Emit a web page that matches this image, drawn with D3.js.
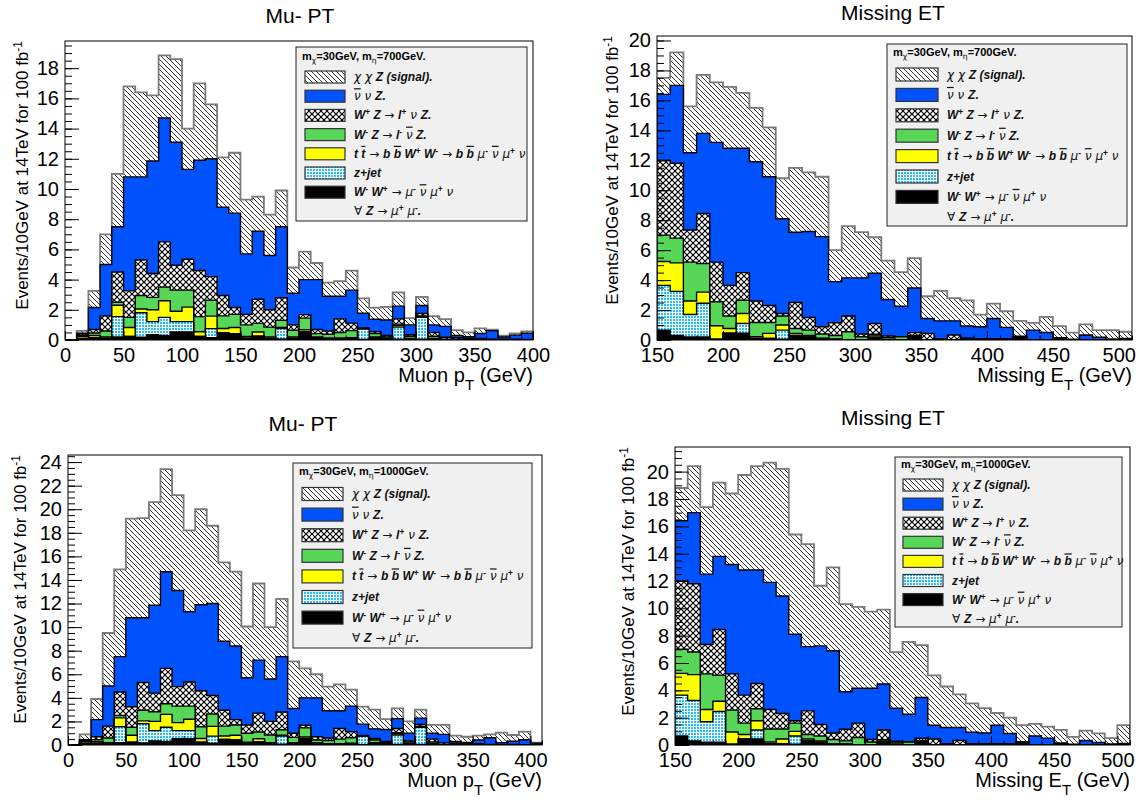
<!DOCTYPE html>
<html>
<head>
<meta charset="utf-8">
<script src="https://cdn.jsdelivr.net/npm/d3@7"></script>
<style>
  body { margin: 0; background: #fff; }
  svg text { font-family: 'Liberation Sans', Arial, sans-serif; }
</style>
</head>
<body>
<svg id="chart" width="1143" height="804"></svg>
<script>
// bin lower edges (10 GeV bins)
const muEdges = d3.range(0, 420, 10);    // 0..410
const metEdges = d3.range(150, 520, 10); // 150..510

// Muon pT, events per bin, one array per process (backgrounds shared by both masses)
const muWW    = [0, .1, .15, .1, .2, .23, .18, .35, .3, .53, .53, .23, .15, .48, .42, .12, .25, .1, .07, .1, .53, .15, .1, .1, .1, .03, .15, .05, .05, .05, .05, .05, 0, 0, 0, 0, 0, 0, 0, 0, 0];
const muZjet  = [0, 0, 0, 0, 1.35, 0, 1.62, .87, 1.2, .69, .69, 0, .6, 0, 0, 0, 0, 0, .69, 0, 0, 0, 0, 0, 0, .7, 0, 0, .8, 0, 1.45, 0, 0, 0, 0, 0, 0, 0, 0, 0, 0];
const muTT    = [0, .15, .15, .1, .75, .6, .25, .78, 1.1, .68, .96, .32, .83, .28, .41, .11, .28, .1, .07, .1, .15, .05, .02, .02, .05, 0, .05, .05, .1, .05, .05, .05, 0, 0, 0, 0, 0, 0, 0, 0, 0];
const muWmZ   = [0, .05, .16, .4, .2, .67, .9, .82, .9, 1.4, 1.12, 1.0, 1.05, .84, .87, .77, .57, .65, .47, .45, .77, .22, .26, .38, .47, .01, .22, .1, .1, .15, .05, .15, .05, .05, 0, 0, 0, 0, 0, 0, 0];
const muWpZ   = [0, .1, .24, 1.0, 2.0, 1.75, 2.35, 1.58, 3.0, 1.65, 2.05, 3.05, 1.57, 1.35, .45, .7, 1.6, 1.15, 1.5, .35, .23, .28, .22, .9, .5, .06, .13, .1, .35, .1, .15, .25, .13, .1, .1, .1, .05, .05, .05, .03, 0];
const muNuNuZ = [0, .05, 1.45, 3.4, 3.0, 7.55, 5.5, 7.45, 8.2, 8.15, 5.95, 7.3, 7.8, 5.85, 6.25, 4.0, 4.5, 3.6, 4.7, 2.1, 2.32, 3.3, 2.3, 1.5, 2.18, .97, .82, 1.02, .84, .65, .53, .5, .72, .15, .12, .33, .57, .15, .27, .42, .15];
const muSig700  = [0, .15, 1.1, 2.0, 3.5, 6.0, 5.6, 4.35, 4.15, 5.5, 2.7, 5.1, 3.6, 3.3, 4.0, 3.6, 2.3, 2.7, 2.4, 1.7, 1.85, 1.1, .9, 1.0, 1.3, .98, .78, .88, .91, .45, .57, .58, .48, .35, .28, .34, .06, .08, .11, .12, .05];
const muSig1000 = [0, .45, 1.75, 4.5, 7.4, 8.4, 8.45, 8.75, 8.7, 8.1, 6.9, 8.1, 6.6, 6.7, 6.3, 4.35, 6.5, 4.4, 4.9, 4.0, 2.5, 2.0, 2.05, 2.25, 1.4, 1.48, 1.63, .88, .86, 1.0, .72, .7, .8, .5, .48, .37, .28, .85, .53, .68, .05];

// Missing ET
const metWW    = [.66, .3, .2, .2, .05, .45, .45, .1, .1, .05, .3, .2, .1, .05, 0, 0, .15, 0, 0, .27, 0, .05, 0, 0, .05, .05, .05, .2, 0, 0, .05, 0, 0, 0, 0, 0];
const metZjet  = [2.99, 2.95, 1.5, 2.25, 0, 0, .65, 0, 0, .61, 0, 0, 0, 0, 0, 0, 0, 0, 0, 0, 0, 0, 0, 0, 0, 0, 0, 0, 0, 0, 0, 0, 0, 0, 0, 0];
const metTT    = [1.59, 1.9, .9, .75, .9, .32, .67, .12, .34, .34, .14, .1, 0, 0, 0, 0, .12, 0, 0, 0, 0, 0, 0, .1, 0, 0, 0, 0, 0, 0, 0, 0, 0, 0, 0, 0];
const metWmZ   = [1.76, 1.65, 2.6, 1.9, 1.6, .83, .88, .95, .73, .6, .33, .36, .3, .25, .55, .22, .11, .15, .22, .03, 0, 0, 0, 0, 0, 0, 0, 0, 0, 0, 0, 0, 0, 0, 0, 0];
const metWpZ   = [5.0, 5.0, 2.15, 3.35, 2.65, 2.05, 1.85, 1.43, 1.13, .17, 1.73, .84, .48, .85, 1.05, .18, .72, .12, 0, .19, .44, 0, .33, 0, 0, 0, 0, 0, 0, 0, 0, 0, 0, 0, 0, 0];
const metNuNuZ = [4.4, 5.2, 5.15, 5.35, 8.0, 9.15, 8.3, 9.3, 8.6, 6.33, 4.7, 5.75, 6.02, 2.75, 2.55, 3.75, 3.36, 2.43, 2.03, 2.98, 1.0, 1.23, .95, .83, .83, 1.39, .79, .05, .66, .5, .1, .05, .33, .18, .07, .11];
const metSig700  = [1.1, 2.2, 3.1, 3.9, 4.0, 4.1, 3.7, 3.6, 3.3, 2.7, 4.3, 3.95, 4.0, 2.1, 3.45, 3.05, 2.4, 2.6, 2.28, 2.0, 1.48, 2.0, 1.52, 1.72, .82, .99, 1.08, 1.03, .49, 1.05, .78, .44, .71, .48, .59, .44];
const metSig1000 = [2.4, 3.4, 4.9, 5.4, 5.2, 6.95, 7.6, 8.75, 9.3, 7.3, 7.5, 4.4, 6.1, 6.4, 5.95, 5.6, 5.45, 4.1, 5.3, 3.83, 3.66, 3.0, 2.42, 2.12, 1.82, .9, 1.16, 1.21, .88, .84, .95, .55, .72, .67, .43, 1.35];

const muTicks = [0, 50, 100, 150, 200, 250, 300, 350, 400];
const metTicks = [150, 200, 250, 300, 350, 400, 450, 500];

const keys = ['ww', 'zjet', 'tt', 'wmz', 'wpz', 'nnz', 'sig'];
const fills = { ww: '#000', zjet: 'url(#pZjet)', tt: '#ffff00', wmz: '#57d657', wpz: 'url(#pCross)', nnz: '#0052ff', sig: 'url(#pSig)' };

// legend labels: [text, style]
const legendLabels = [
  [['χ χ ', 'g'], ['Z (signal).', 'b']],
  [['ν', 'go'], [' ν ', 'g'], ['Z.', 'b']],
  [['W', 'b'], ['+', 'sup'], [' Z ', 'b'], ['→ ', 'g'], ['l', 'b'], ['+', 'sup'], [' ν ', 'g'], ['Z.', 'b']],
  [['W', 'b'], ['-', 'sup'], [' Z ', 'b'], ['→ ', 'g'], ['l', 'b'], ['-', 'sup'], [' ', 'g'], ['ν', 'go'], [' Z.', 'b']],
  [['t ', 'b'], ['t', 'bo'], [' → ', 'g'], ['b ', 'b'], ['b', 'bo'], [' W', 'b'], ['+', 'sup'], [' W', 'b'], ['-', 'sup'], [' → ', 'g'], ['b ', 'b'], ['b', 'bo'], [' μ', 'g'], ['-', 'sup'], [' ', 'g'], ['ν', 'go'], [' μ', 'g'], ['+', 'sup'], [' ν', 'g']],
  [['z+jet', 'b']],
  [['W', 'b'], ['-', 'sup'], [' W', 'b'], ['+', 'sup'], [' → μ', 'g'], ['-', 'sup'], [' ', 'g'], ['ν', 'go'], [' μ', 'g'], ['+', 'sup'], [' ν', 'g']],
  [['∀ ', 'g'], ['Z', 'b'], [' → μ', 'g'], ['+', 'sup'], [' μ', 'g'], ['-', 'sup'], ['.', 'b']]
];
const legendKeys = ['sig', 'nnz', 'wpz', 'wmz', 'tt', 'zjet', 'ww', null];

const panels = [
  { edges: muEdges, cols: [muWW, muZjet, muTT, muWmZ, muWpZ, muNuNuZ, muSig700], x0: 65, x1: 533, yT: 41, yB: 340,
    xDom: [0, 400], yMax: 19.8, xTicks: muTicks, title: 'Mu- PT', tx: 300, ty: 23, axTitle: ['Muon p', 'T'],
    ytx: 22, mEta: '700', leg: { box: [296, 47, 527, 221], hy: 60, y0: 77, step: 19.2, sx: 305, sw: 40, sh: 12, tx: 354 } },
  { edges: metEdges, cols: [metWW, metZjet, metTT, metWmZ, metWpZ, metNuNuZ, metSig700], x0: 657, x1: 1132, yT: 36, yB: 340,
    xDom: [150, 510], yMax: 20.3, xTicks: metTicks, title: 'Missing ET', tx: 893, ty: 20, axTitle: ['Missing E', 'T'],
    ytx: 612, mEta: '700', leg: { box: [887, 44, 1127, 226], hy: 56, y0: 74.5, step: 20.4, sx: 896, sw: 42, sh: 13, tx: 947 } },
  { edges: muEdges, cols: [muWW, muZjet, muTT, muWmZ, muWpZ, muNuNuZ, muSig1000], x0: 68, x1: 542, yT: 455, yB: 745,
    xDom: [0, 410], yMax: 24.6, xTicks: muTicks, title: 'Mu- PT', tx: 303, ty: 431, axTitle: ['Muon p', 'T'],
    ytx: 20, mEta: '1000', leg: { box: [293, 463, 532, 648], hy: 475, y0: 494, step: 20.6, sx: 302, sw: 41, sh: 13, tx: 352 } },
  { edges: metEdges, cols: [metWW, metZjet, metTT, metWmZ, metWpZ, metNuNuZ, metSig1000], x0: 675, x1: 1130, yT: 447, yB: 745,
    xDom: [150, 510], yMax: 21.8, xTicks: metTicks, title: 'Missing ET', tx: 893, ty: 425, axTitle: ['Missing E', 'T'],
    ytx: 628, mEta: '1000', leg: { box: [895, 457, 1122, 627], hy: 467.5, y0: 485, step: 19.1, sx: 903, sw: 40, sh: 12, tx: 952 } }
];

const svg = d3.select('#chart');
const defs = svg.append('defs');

// hatch patterns
const pSig = defs.append('pattern').attr('id', 'pSig').attr('patternUnits', 'userSpaceOnUse')
  .attr('width', 5).attr('height', 5);
pSig.append('rect').attr('width', 5).attr('height', 5).attr('fill', '#fff');
pSig.append('path').attr('d', 'M0,0L5,5M-1,4L1,6M4,-1L6,1').attr('stroke', '#000').attr('stroke-width', 0.8);

const pCross = defs.append('pattern').attr('id', 'pCross').attr('patternUnits', 'userSpaceOnUse')
  .attr('width', 6).attr('height', 6);
pCross.append('rect').attr('width', 6).attr('height', 6).attr('fill', '#fff');
pCross.append('path').attr('d', 'M0,0L6,6M6,0L0,6').attr('stroke', '#000').attr('stroke-width', 1.2);

const pZjet = defs.append('pattern').attr('id', 'pZjet').attr('patternUnits', 'userSpaceOnUse')
  .attr('width', 3).attr('height', 3);
pZjet.append('rect').attr('width', 3).attr('height', 3).attr('fill', '#fff');
pZjet.append('rect').attr('x', 1).attr('y', 1).attr('width', 2).attr('height', 2).attr('fill', '#1fc0ff');

const styles = {
  g:   { family: "'DejaVu Sans', sans-serif", style: 'italic', weight: 'normal' },
  go:  { family: "'DejaVu Sans', sans-serif", style: 'italic', weight: 'normal', deco: 'overline' },
  b:   { style: 'italic', weight: 'bold' },
  bo:  { style: 'italic', weight: 'bold', deco: 'overline' },
  n:   { weight: 'bold' },
  sup: { weight: 'bold', size: '70%', shift: -4 },
  sub: { family: "'DejaVu Sans', sans-serif", weight: 'normal', size: '70%', shift: 3 }
};

function rich(text, parts) {
  let cur = 0;
  parts.forEach(([s, c]) => {
    const st = styles[c];
    const ts = text.append('tspan').text(s);
    const target = st.shift || 0;
    if (target !== cur) ts.attr('dy', target - cur);
    cur = target;
    if (st.family) ts.attr('font-family', st.family);
    if (st.style) ts.attr('font-style', st.style);
    if (st.weight) ts.attr('font-weight', st.weight);
    if (st.size) ts.attr('font-size', st.size);
    if (st.deco) ts.attr('text-decoration', st.deco);
  });
}

panels.forEach((p, pi) => {
  const g = svg.append('g');
  const x = d3.scaleLinear().domain(p.xDom).range([p.x0, p.x1]);
  const y = d3.scaleLinear().domain([0, p.yMax]).range([p.yB, p.yT]);

  const clipId = 'clip' + pi;
  defs.append('clipPath').attr('id', clipId).append('rect')
    .attr('x', p.x0).attr('y', p.yT).attr('width', p.x1 - p.x0).attr('height', p.yB - p.yT);

  const rows = p.cols[0].map((_, i) => {
    const r = {};
    keys.forEach((k, j) => { r[k] = p.cols[j][i]; });
    return r;
  });
  const stacked = d3.stack().keys(keys)(rows);

  const area = d3.area()
    .x(d => x(d[0])).y0(y(0)).y1(d => y(d[1]))
    .curve(d3.curveStepAfter);

  const hist = g.append('g').attr('clip-path', `url(#${clipId})`);
  // draw like ROOT THStack: largest cumulative first, each from zero
  for (let k = keys.length - 1; k >= 0; k--) {
    const s = stacked[k];
    const n = s.length;
    const pts = s.map((d, i) => [p.edges[i], d[1]]);
    pts.push([p.edges[n], s[n - 1][1]]);
    hist.append('path')
      .attr('d', area(pts))
      .attr('fill', fills[keys[k]])
      .attr('stroke', keys[k] === 'sig' ? '#7a7a7a' : '#000')
      .attr('stroke-width', keys[k] === 'sig' ? 1.8 : 1.4)
      .attr('stroke-linejoin', 'miter');
  }

  // frame
  g.append('rect').attr('x', p.x0).attr('y', p.yT)
    .attr('width', p.x1 - p.x0).attr('height', p.yB - p.yT)
    .attr('fill', 'none').attr('stroke', '#000').attr('stroke-width', 1);

  // y axis, ticks inside the frame
  const yMajor = d3.range(0, p.yMax + 0.001, 2);
  const yMinor = d3.range(0, p.yMax, 0.5);
  const ya = g.append('g').attr('transform', `translate(${p.x0},0)`)
    .call(d3.axisLeft(y).tickValues(yMinor).tickSize(-7).tickFormat(''));
  ya.select('.domain').remove();
  const yb = g.append('g').attr('transform', `translate(${p.x0},0)`)
    .call(d3.axisLeft(y).tickValues(yMajor).tickSize(-14).tickPadding(6).tickFormat(d3.format('d')));
  yb.select('.domain').remove();
  yb.selectAll('text').attr('font-size', 20).attr('font-family', "'Liberation Sans', Arial, sans-serif");

  // x axis
  const xMinor = d3.range(p.xDom[0], p.xDom[1] + 0.001, 10);
  const xa = g.append('g').attr('transform', `translate(0,${p.yB})`)
    .call(d3.axisBottom(x).tickValues(xMinor).tickSize(-4.5).tickFormat(''));
  xa.select('.domain').remove();
  const xb = g.append('g').attr('transform', `translate(0,${p.yB})`)
    .call(d3.axisBottom(x).tickValues(p.xTicks).tickSize(-9).tickPadding(8).tickFormat(d3.format('d')));
  xb.select('.domain').remove();
  xb.selectAll('text').attr('font-size', 20).attr('font-family', "'Liberation Sans', Arial, sans-serif");
  g.selectAll('.tick line').attr('stroke', '#000');

  // title
  g.append('text').attr('x', p.tx).attr('y', p.ty).attr('text-anchor', 'middle')
    .attr('font-size', 21).text(p.title);

  // x axis title
  const xt = g.append('text').attr('x', p.x1).attr('y', p.yB + 42).attr('text-anchor', 'end').attr('font-size', 20);
  xt.append('tspan').text(p.axTitle[0]);
  xt.append('tspan').attr('dy', 8).attr('font-size', 15).text(p.axTitle[1]);
  xt.append('tspan').attr('dy', -8).text(' (GeV)');

  // y axis title
  const yt = g.append('text').attr('transform', `translate(${p.ytx + 6},${p.yT}) rotate(-90)`)
    .attr('text-anchor', 'end').attr('font-size', 17);
  yt.append('tspan').text('Events/10GeV at 14TeV for 100 fb');
  yt.append('tspan').attr('dy', -6).attr('font-size', 12).text('-1');

  // legend
  const L = p.leg;
  const lg = g.append('g');
  lg.append('rect').attr('x', L.box[0]).attr('y', L.box[1])
    .attr('width', L.box[2] - L.box[0]).attr('height', L.box[3] - L.box[1])
    .attr('fill', '#f0f0f0').attr('stroke', '#222').attr('stroke-width', 1);
  const head = lg.append('text').attr('x', L.box[0] + 6).attr('y', L.hy).attr('font-size', 11).attr('font-weight', 'bold');
  rich(head, [['m', 'n'], ['χ', 'sub'], ['=30GeV, m', 'n'], ['η', 'sub'], ['=' + p.mEta + 'GeV.', 'n']]);

  legendLabels.forEach((lab, i) => {
    const cy = L.y0 + i * L.step;
    const k = legendKeys[i];
    if (k) {
      lg.append('rect').attr('x', L.sx).attr('y', cy - L.sh / 2).attr('width', L.sw).attr('height', L.sh)
        .attr('fill', fills[k]).attr('stroke', '#333').attr('stroke-width', 1.2);
    }
    const t = lg.append('text').attr('x', L.tx).attr('y', cy + 4).attr('font-size', 12).attr('fill', '#111');
    rich(t, lab);
  });
});
</script>
</body>
</html>
